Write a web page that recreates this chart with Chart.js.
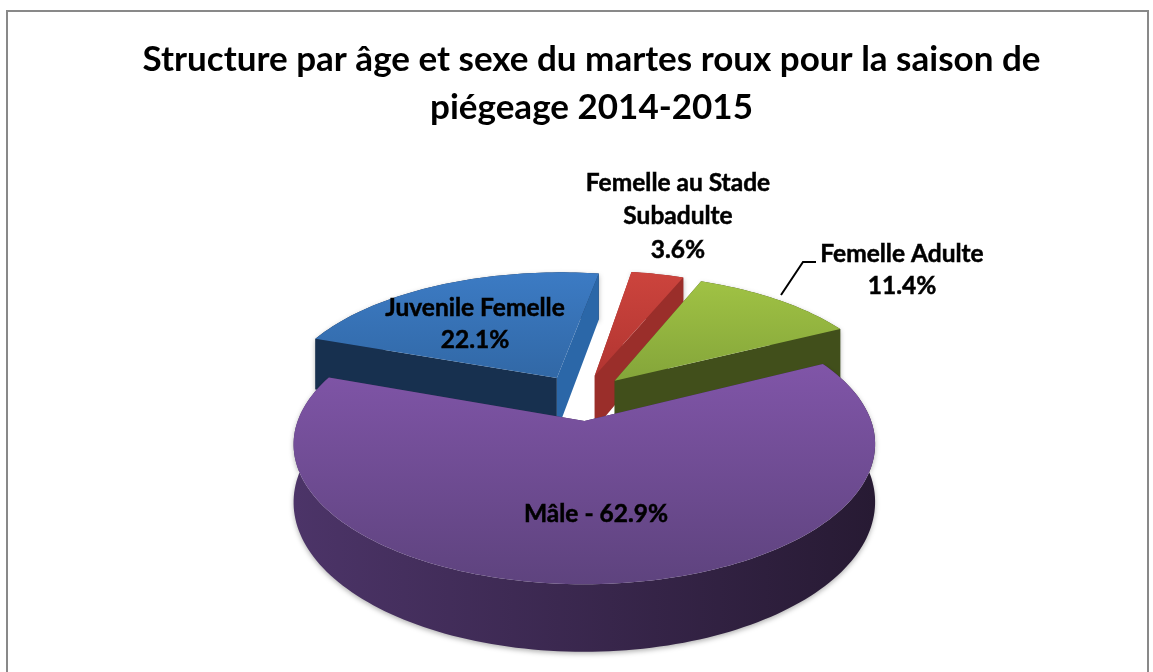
<!DOCTYPE html>
<html>
<head>
<meta charset="utf-8">
<title>Structure par âge et sexe</title>
<script src="https://cdn.jsdelivr.net/npm/chart.js@4/dist/chart.umd.min.js"></script>
<style>
  html, body { margin: 0; padding: 0; background: #fff; overflow: hidden; }
  #frame { position: absolute; left: 6px; top: 10px; width: 1139px; height: 670px;
           border: 2px solid #898989; border-bottom: none; }
  canvas { position: absolute; left: 0; top: 0; }
</style>
</head>
<body>
<div id="frame"></div>
<canvas id="pie" width="1153" height="672"></canvas>
<script>
const categories = ["Juvenile Femelle", "Femelle au Stade Subadulte", "Femelle Adulte", "Mâle"];
const values = [22.1, 3.6, 11.4, 62.9];
const titleLines = ["Structure par âge et sexe du martes roux pour la saison de", "piégeage 2014-2015"];

// colours per slice: top light, top dark, wall left, wall right, cut face at slice start, cut face at slice end
const palette = [
  ["#3c7bc4", "#3168a6", "#14294a", "#1a3658", "#17304f", "#2b67a8"],
  ["#cc443d", "#b23531", "#8f2a27", "#8f2a27", "#9c2f2b", "#9a2e2a"],
  ["#a0c244", "#84a53a", "#3f4d1a", "#3f4d1a", "#445219", "#414f1b"],
  ["#8055a8", "#5e437e", "#4c3468", "#271a33", "#3a2850", "#3a2850"]
];

// fake 3D: pie is laid flat and seen from above with some perspective
const RADIUS = 285;
const EXPLODE = 102;
const TILT = 0.472;
const PERSPECTIVE = 0.165;
const DEPTH = 56;
const PIVOT_X = 587;
const PIVOT_Y = 416;
const SHIFT_X = -0.02;
const SHIFT_Y = -0.142;

function project(u, v) {
  const x = u + SHIFT_X;
  const y = v + SHIFT_Y;
  const s = 1 / (1 - PERSPECTIVE * y);
  return { x: PIVOT_X + x * RADIUS * s, y: PIVOT_Y + y * RADIUS * TILT * s, s: s };
}

function dropped(p) {
  return { x: p.x, y: p.y + DEPTH * p.s };
}

function fillPath(ctx, pts, fill) {
  ctx.beginPath();
  pts.forEach((p, i) => (i ? ctx.lineTo(p.x, p.y) : ctx.moveTo(p.x, p.y)));
  ctx.closePath();
  ctx.fillStyle = fill;
  ctx.fill();
}

function sliceGeometry(el) {
  const mid = (el.startAngle + el.endAngle) / 2;
  const off = el.options.offset / 2 / RADIUS;
  const ox = Math.cos(mid) * off;
  const oy = Math.sin(mid) * off;
  const rim = [];
  const steps = Math.ceil((el.endAngle - el.startAngle) * 40);
  for (let i = 0; i <= steps; i++) {
    const a = el.startAngle + ((el.endAngle - el.startAngle) * i) / steps;
    rim.push(project(ox + Math.cos(a), oy + Math.sin(a)));
  }
  return { apex: project(ox, oy), rim: rim };
}

function drawSlice(ctx, geo, colors) {
  const { apex, rim } = geo;
  const first = rim[0];
  const last = rim[rim.length - 1];
  const xs = rim.map((p) => p.x);
  const ys = rim.map((p) => p.y).concat(apex.y);

  // outer wall
  const wall = ctx.createLinearGradient(Math.min(...xs), 0, Math.max(...xs), 0);
  wall.addColorStop(0, colors[2]);
  wall.addColorStop(1, colors[3]);
  ctx.save();
  ctx.shadowColor = "rgba(0,0,0,0.3)";
  ctx.shadowBlur = 5;
  ctx.shadowOffsetY = 2;
  fillPath(ctx, rim.concat(rim.map(dropped).reverse()), wall);
  ctx.restore();

  // cut faces
  fillPath(ctx, [apex, first, dropped(first), dropped(apex)], colors[4]);
  fillPath(ctx, [apex, last, dropped(last), dropped(apex)], colors[5]);

  // top
  const top = ctx.createLinearGradient(0, Math.min(...ys), 0, Math.max(...ys));
  top.addColorStop(0, colors[0]);
  top.addColorStop(1, colors[1]);
  fillPath(ctx, [apex].concat(rim), top);
}

const pie3d = {
  id: "pie3d",
  beforeDatasetDraw(chart, args) {
    const ctx = chart.ctx;
    const arcs = chart.getDatasetMeta(args.index).data;
    const slices = arcs.map((el, i) => ({ geo: sliceGeometry(el), colors: palette[i] }));
    slices.sort((a, b) => a.geo.apex.y - b.geo.apex.y);
    slices.forEach((s) => drawSlice(ctx, s.geo, s.colors));
    return false;
  }
};

const pct = (i) => values[i].toFixed(1) + "%";

function boldText(ctx, text, x, y) {
  ctx.fillText(text, x, y);
  ctx.strokeText(text, x, y);
}

const sliceLabels = {
  id: "sliceLabels",
  afterDatasetsDraw(chart) {
    const ctx = chart.ctx;
    ctx.save();
    ctx.fillStyle = "#000";
    ctx.strokeStyle = "#000";
    ctx.lineWidth = 0.5;
    ctx.font = "bold 24.5px Lato";
    ctx.textAlign = "center";
    ctx.textBaseline = "middle";
    boldText(ctx, categories[0], 475, 308);
    boldText(ctx, pct(0), 475, 340);
    boldText(ctx, "Femelle au Stade", 678, 183);
    boldText(ctx, "Subadulte", 678, 216);
    boldText(ctx, pct(1), 678, 250);
    boldText(ctx, categories[2], 902, 254);
    boldText(ctx, pct(2), 902, 286);
    boldText(ctx, categories[3] + " - " + pct(3), 596, 514);
    ctx.lineWidth = 2;
    ctx.beginPath();
    ctx.moveTo(781, 295);
    ctx.lineTo(803, 262);
    ctx.lineTo(816, 262);
    ctx.stroke();
    ctx.restore();
  }
};

new Chart(document.getElementById("pie"), {
  type: "pie",
  data: {
    labels: categories,
    datasets: [{
      data: values,
      backgroundColor: palette.map((c) => c[0]),
      borderWidth: 0,
      offset: EXPLODE
    }]
  },
  plugins: [pie3d, sliceLabels],
  options: {
    responsive: false,
    animation: false,
    rotation: -70.3,
    radius: RADIUS,
    layout: { padding: { left: 30 } },
    plugins: {
      legend: { display: false },
      tooltip: { enabled: false },
      title: {
        display: true,
        text: titleLines,
        color: "#000",
        font: { family: "Lato", size: 35, weight: "bold", lineHeight: 1.37 },
        padding: { top: 36, bottom: 10 }
      }
    }
  }
});
</script>
</body>
</html>
